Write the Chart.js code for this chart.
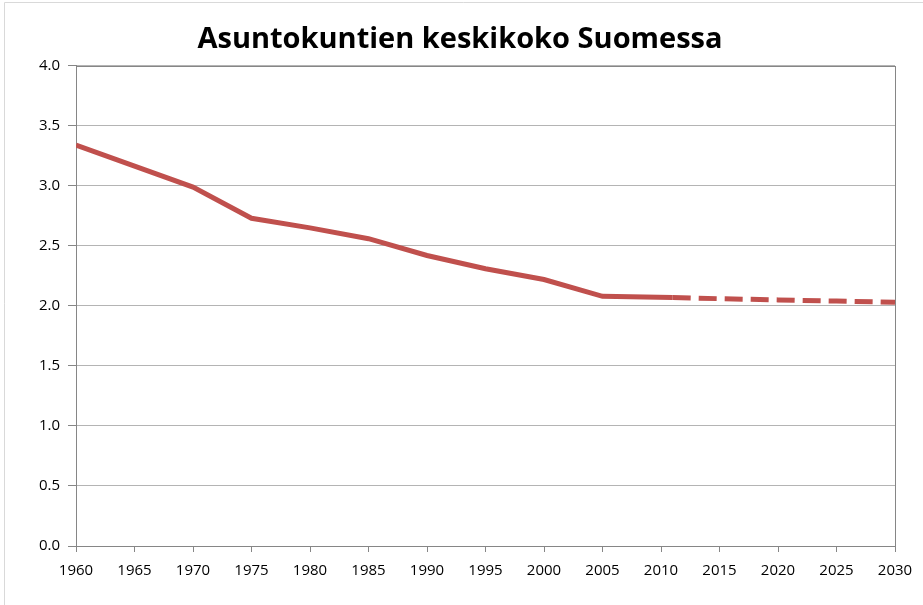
<!DOCTYPE html>
<html>
<head>
<meta charset="utf-8">
<script src="https://cdn.jsdelivr.net/npm/chart.js@4/dist/chart.umd.min.js"></script>
<style>
  html, body { margin: 0; padding: 0; background: #fff; }
  #wrap { width: 923px; height: 605px; }
</style>
</head>
<body>
<div id="wrap"><canvas id="chart-line"></canvas></div>
<script>
// values
var years = [1960, 1970, 1975, 1980, 1985, 1990, 1995, 2000, 2005, 2011];
var sizes = [3.34, 2.99, 2.73, 2.65, 2.56, 2.42, 2.31, 2.22, 2.08, 2.07];
var forecastYears = [2011, 2015, 2020, 2025, 2030];
var forecastSizes = [2.07, 2.06, 2.05, 2.04, 2.03];
var yTicks = [0, 0.5, 1, 1.5, 2, 2.5, 3, 3.5, 4];

function points(xs, ys) {
  return xs.map(function (x, i) { return { x: x, y: ys[i] }; });
}

var axisGrey = "#868686";

// outer chart frame + plot area frame (Excel look)
var frames = {
  id: "frames",
  beforeDraw: function (chart) {
    var c = chart.ctx;
    c.save();
    c.strokeStyle = "#d9d9d9";
    c.lineWidth = 1;
    c.beginPath();
    c.moveTo(4.5, 605);
    c.lineTo(4.5, 2.5);
    c.lineTo(923, 2.5);
    c.stroke();
    c.restore();
  },
  beforeDatasetsDraw: function (chart) {
    var a = chart.chartArea, c = chart.ctx;
    c.save();
    c.strokeStyle = axisGrey;
    c.lineWidth = 1;
    c.strokeRect(Math.round(a.left) + 0.5, Math.round(a.top) + 0.5,
      Math.round(a.right - a.left), Math.round(a.bottom - a.top));
    c.restore();
  }
};

var ctx = document.getElementById("chart-line").getContext("2d");

new Chart(ctx, {
  type: "line",
  data: {
    datasets: [
      {
        label: "Toteutunut",
        data: points(years, sizes),
        borderColor: "#c0504d",
        borderWidth: 5,
        pointRadius: 0,
        tension: 0,
        fill: false,
      },
      {
        label: "Ennuste",
        data: points(forecastYears, forecastSizes),
        borderColor: "#c0504d",
        borderWidth: 5,
        borderDash: [18, 8],
        pointRadius: 0,
        tension: 0,
        fill: false,
      },
    ],
  },
  plugins: [frames],
  options: {
    responsive: true,
    maintainAspectRatio: false,
    animation: false,
    layout: {
      padding: { left: 25, right: 28, top: 0, bottom: 0 },
    },
    plugins: {
      legend: { display: false },
      tooltip: { enabled: false },
      title: {
        display: true,
        text: "Asuntokuntien keskikoko Suomessa",
        color: "#000",
        font: { family: "Open Sans", size: 29, weight: "bold", lineHeight: 1.2 },
        padding: { top: 22, bottom: 9 },
      },
    },
    scales: {
      x: {
        type: "linear",
        min: 1960,
        max: 2030,
        afterFit: function (scale) { scale.height = 59; },
        border: { display: true, color: axisGrey, width: 1 },
        grid: {
          display: true,
          drawOnChartArea: false,
          drawTicks: true,
          tickLength: 6,
          tickColor: axisGrey,
        },
        ticks: {
          stepSize: 5,
          autoSkip: false,
          maxRotation: 0,
          padding: 10,
          color: "#000",
          font: { family: "Open Sans", size: 15 },
          callback: function (v) { return String(v); },
        },
      },
      y: {
        min: 0,
        max: 4,
        afterFit: function (scale) { scale.width = 51; },
        afterBuildTicks: function (scale) {
          scale.ticks = yTicks.map(function (v) { return { value: v }; });
        },
        border: { display: true, color: axisGrey, width: 1 },
        grid: {
          color: "#b4b4b4",
          lineWidth: 1,
          drawTicks: true,
          tickLength: 8,
          tickColor: axisGrey,
        },
        ticks: {
          padding: 8,
          color: "#000",
          font: { family: "Open Sans", size: 15 },
          callback: function (v) { return Number(v).toFixed(1); },
        },
      },
    },
  },
});
</script>
</body>
</html>
